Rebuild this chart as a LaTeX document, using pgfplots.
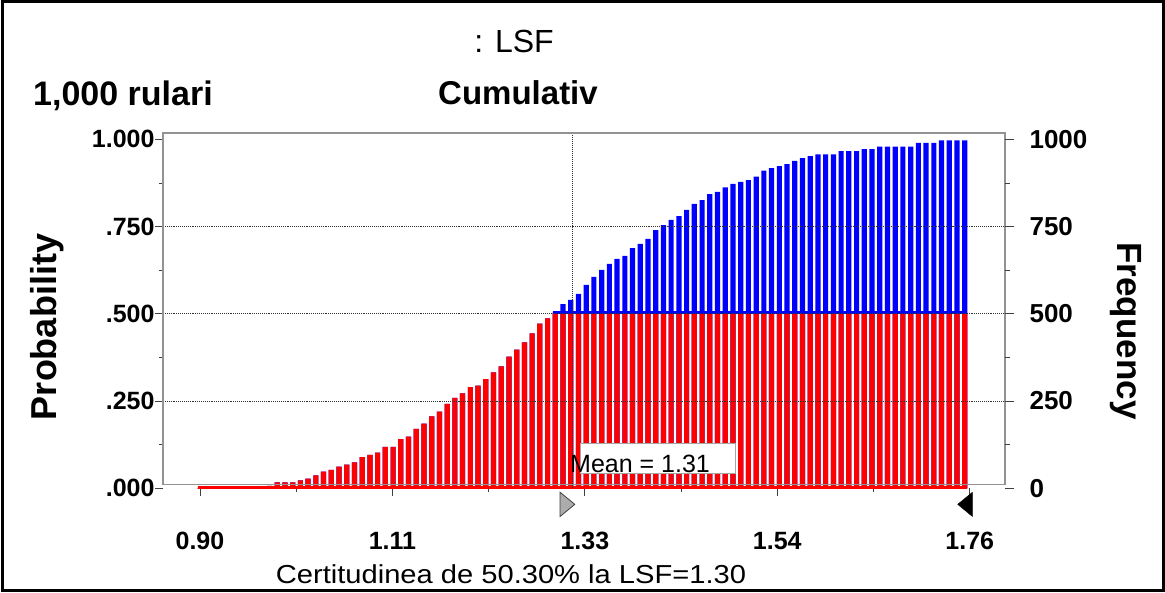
\documentclass[border=0pt]{standalone}
\usepackage{pgfplots}
\pgfplotsset{compat=1.18}
\usepackage{pgfplotstable}
\usepackage{fontspec}
\setmainfont{Liberation Sans}

\newcommand{\fs}[1]{\fontsize{#1}{#1}\selectfont}

% cumulative probability per bin, and the part of it up to the certainty level (0.503)
\pgfplotstableread{
x      cum    red
0.9000 0.001 0.001
0.9086 0.001 0.001
0.9173 0.001 0.001
0.9259 0.002 0.002
0.9345 0.002 0.002
0.9432 0.002 0.002
0.9518 0.003 0.003
0.9604 0.006 0.006
0.9690 0.006 0.006
0.9777 0.007 0.007
0.9863 0.017 0.017
0.9949 0.017 0.017
1.0036 0.017 0.017
1.0122 0.023 0.023
1.0208 0.028 0.028
1.0295 0.037 0.037
1.0381 0.048 0.048
1.0467 0.053 0.053
1.0553 0.062 0.062
1.0640 0.068 0.068
1.0726 0.074 0.074
1.0812 0.089 0.089
1.0899 0.096 0.096
1.0985 0.102 0.102
1.1071 0.119 0.119
1.1158 0.119 0.119
1.1244 0.141 0.141
1.1330 0.148 0.148
1.1416 0.170 0.170
1.1503 0.185 0.185
1.1589 0.206 0.206
1.1675 0.220 0.220
1.1762 0.242 0.242
1.1848 0.259 0.259
1.1934 0.272 0.272
1.2021 0.290 0.290
1.2107 0.294 0.294
1.2193 0.313 0.313
1.2279 0.332 0.332
1.2366 0.349 0.349
1.2452 0.377 0.377
1.2538 0.397 0.397
1.2625 0.418 0.418
1.2711 0.444 0.444
1.2797 0.472 0.472
1.2884 0.487 0.487
1.2970 0.503 0.503
1.3056 0.528 0.503
1.3142 0.540 0.503
1.3229 0.557 0.503
1.3315 0.583 0.503
1.3401 0.606 0.503
1.3488 0.626 0.503
1.3574 0.643 0.503
1.3660 0.657 0.503
1.3747 0.666 0.503
1.3833 0.688 0.503
1.3919 0.700 0.503
1.4005 0.715 0.503
1.4092 0.740 0.503
1.4178 0.754 0.503
1.4264 0.769 0.503
1.4351 0.780 0.503
1.4437 0.798 0.503
1.4523 0.815 0.503
1.4610 0.826 0.503
1.4696 0.843 0.503
1.4782 0.849 0.503
1.4868 0.862 0.503
1.4955 0.872 0.503
1.5041 0.878 0.503
1.5127 0.883 0.503
1.5214 0.893 0.503
1.5300 0.910 0.503
1.5386 0.917 0.503
1.5473 0.923 0.503
1.5559 0.929 0.503
1.5645 0.938 0.503
1.5731 0.946 0.503
1.5818 0.952 0.503
1.5904 0.957 0.503
1.5990 0.957 0.503
1.6077 0.957 0.503
1.6163 0.966 0.503
1.6249 0.966 0.503
1.6336 0.966 0.503
1.6422 0.972 0.503
1.6508 0.972 0.503
1.6594 0.979 0.503
1.6681 0.979 0.503
1.6767 0.979 0.503
1.6853 0.979 0.503
1.6940 0.979 0.503
1.7026 0.990 0.503
1.7112 0.990 0.503
1.7199 0.990 0.503
1.7285 0.997 0.503
1.7371 0.997 0.503
1.7457 0.997 0.503
1.7544 0.997 0.503
}\cumdata

\begin{document}
\begin{tikzpicture}
\useasboundingbox (0,0) rectangle (1165pt,592pt);
\draw[line width=3pt] (2pt,2pt) rectangle (1163pt,590pt);

\begin{axis}[
    at={(163pt,103.7pt)}, anchor=south west,
    scale only axis, width=842pt, height=355.3pt,
    xmin=0.8587, xmax=1.7994, ymin=0, ymax=1.018,
    clip=false,
    axis line style={draw=none},
    xtick={0.90,1.115,1.33,1.545,1.76},
    xticklabels={0.90,1.11,1.33,1.54,1.76},
    ytick={0,0.25,0.5,0.75,1},
    yticklabels={.000,.250,.500,.750,1.000},
    minor x tick num=1, minor y tick num=1,
    xtick pos=left, ytick pos=left,
    tick align=outside,
    major tick length=8pt, minor tick length=4pt,
    tick style={black!75, line width=0.8pt},
    /pgf/number format/assume math mode=true,
    ticklabel style={font=\bfseries\fs{25}},
    yticklabel style={xshift=3pt},
    xticklabel style={anchor=base, yshift=-53pt},
]
% cumulative bars: blue beyond the certainty level, red up to it
\addplot[ybar, bar width=5.2pt, bar shift=0pt, fill=blue, draw=none] table[x=x, y=cum] {\cumdata};
\addplot[ybar, bar width=5.2pt, bar shift=0pt, fill=red, draw=none] table[x=x, y=red] {\cumdata};
\addplot[blue, line width=2.5pt] coordinates {(1.2940,0.503) (1.7570,0.503)};
\addplot[red, line width=2.5pt] coordinates {(0.8975,0.002) (1.7570,0.002)};

% grid
\addplot[black!80, densely dotted, line width=0.9pt] coordinates {(0.8587,0.25) (1.7994,0.25)};
\addplot[black!80, densely dotted, line width=0.9pt] coordinates {(0.8587,0.50) (1.7994,0.50)};
\addplot[black!80, densely dotted, line width=0.9pt] coordinates {(0.8587,0.75) (1.7994,0.75)};
\addplot[black!80, densely dotted, line width=1pt] coordinates {(1.3165,0) (1.3165,1.018)};

\draw[gray!85, line width=1.2pt] (rel axis cs:0,0.0113) rectangle (rel axis cs:1,1);

% mean label
\draw[gray!70, fill=white, line width=1pt] (axis cs:1.3246,0.041) rectangle (axis cs:1.4978,0.127);
\node[anchor=base west, inner sep=0pt, font=\fs{25}] at (axis cs:1.3134,0.044) {Mean = 1.31};

% certainty grabbers
\addplot[only marks, mark=triangle*, mark size=14pt,
    mark options={rotate=-90, yscale=0.7, fill=gray!65, draw=gray!50!black, line width=0.8pt}]
    coordinates {(1.3078,-0.046)};
\addplot[only marks, mark=triangle*, mark size=14pt,
    mark options={rotate=90, yscale=0.7, fill=black, draw=black}]
    coordinates {(1.7575,-0.046)};
\end{axis}

\begin{axis}[
    at={(163pt,103.7pt)}, anchor=south west,
    scale only axis, width=842pt, height=355.3pt,
    xmin=0.8587, xmax=1.7994, ymin=0, ymax=1018,
    hide x axis,
    axis y line*=right,
    axis line style={draw=none},
    ytick={0,250,500,750,1000},
    yticklabels={0,250,500,750,1000},
    minor y tick num=1,
    tick align=outside,
    major tick length=9pt, minor tick length=5pt,
    tick style={black!75, line width=0.8pt},
    /pgf/number format/assume math mode=true,
    yticklabel style={font=\bfseries\fs{26}, xshift=12pt},
]
\addplot[draw=none] coordinates {(1,0) (1.5,1000)};
\end{axis}

\node[anchor=base, font=\fs{32}] at (514pt,539pt) {: LSF};
\node[anchor=base, font=\bfseries\fs{33}] at (518pt,487pt) {Cumulativ};
\node[anchor=base west, font=\bfseries\fs{34}, inner sep=0pt] at (33pt,486pt) {1,000 rulari};
\node[rotate=90, font=\bfseries\fs{36}] at (47pt,265pt) {Probability};
\node[rotate=-90, font=\bfseries\fs{35}] at (1126pt,261pt) {Frequency};
\node[anchor=base, font=\fs{26}] at (511pt,9pt) {\scalebox{1.12}[1]{Certitudinea de 50.30\% la LSF=1.30}};
\end{tikzpicture}
\end{document}
